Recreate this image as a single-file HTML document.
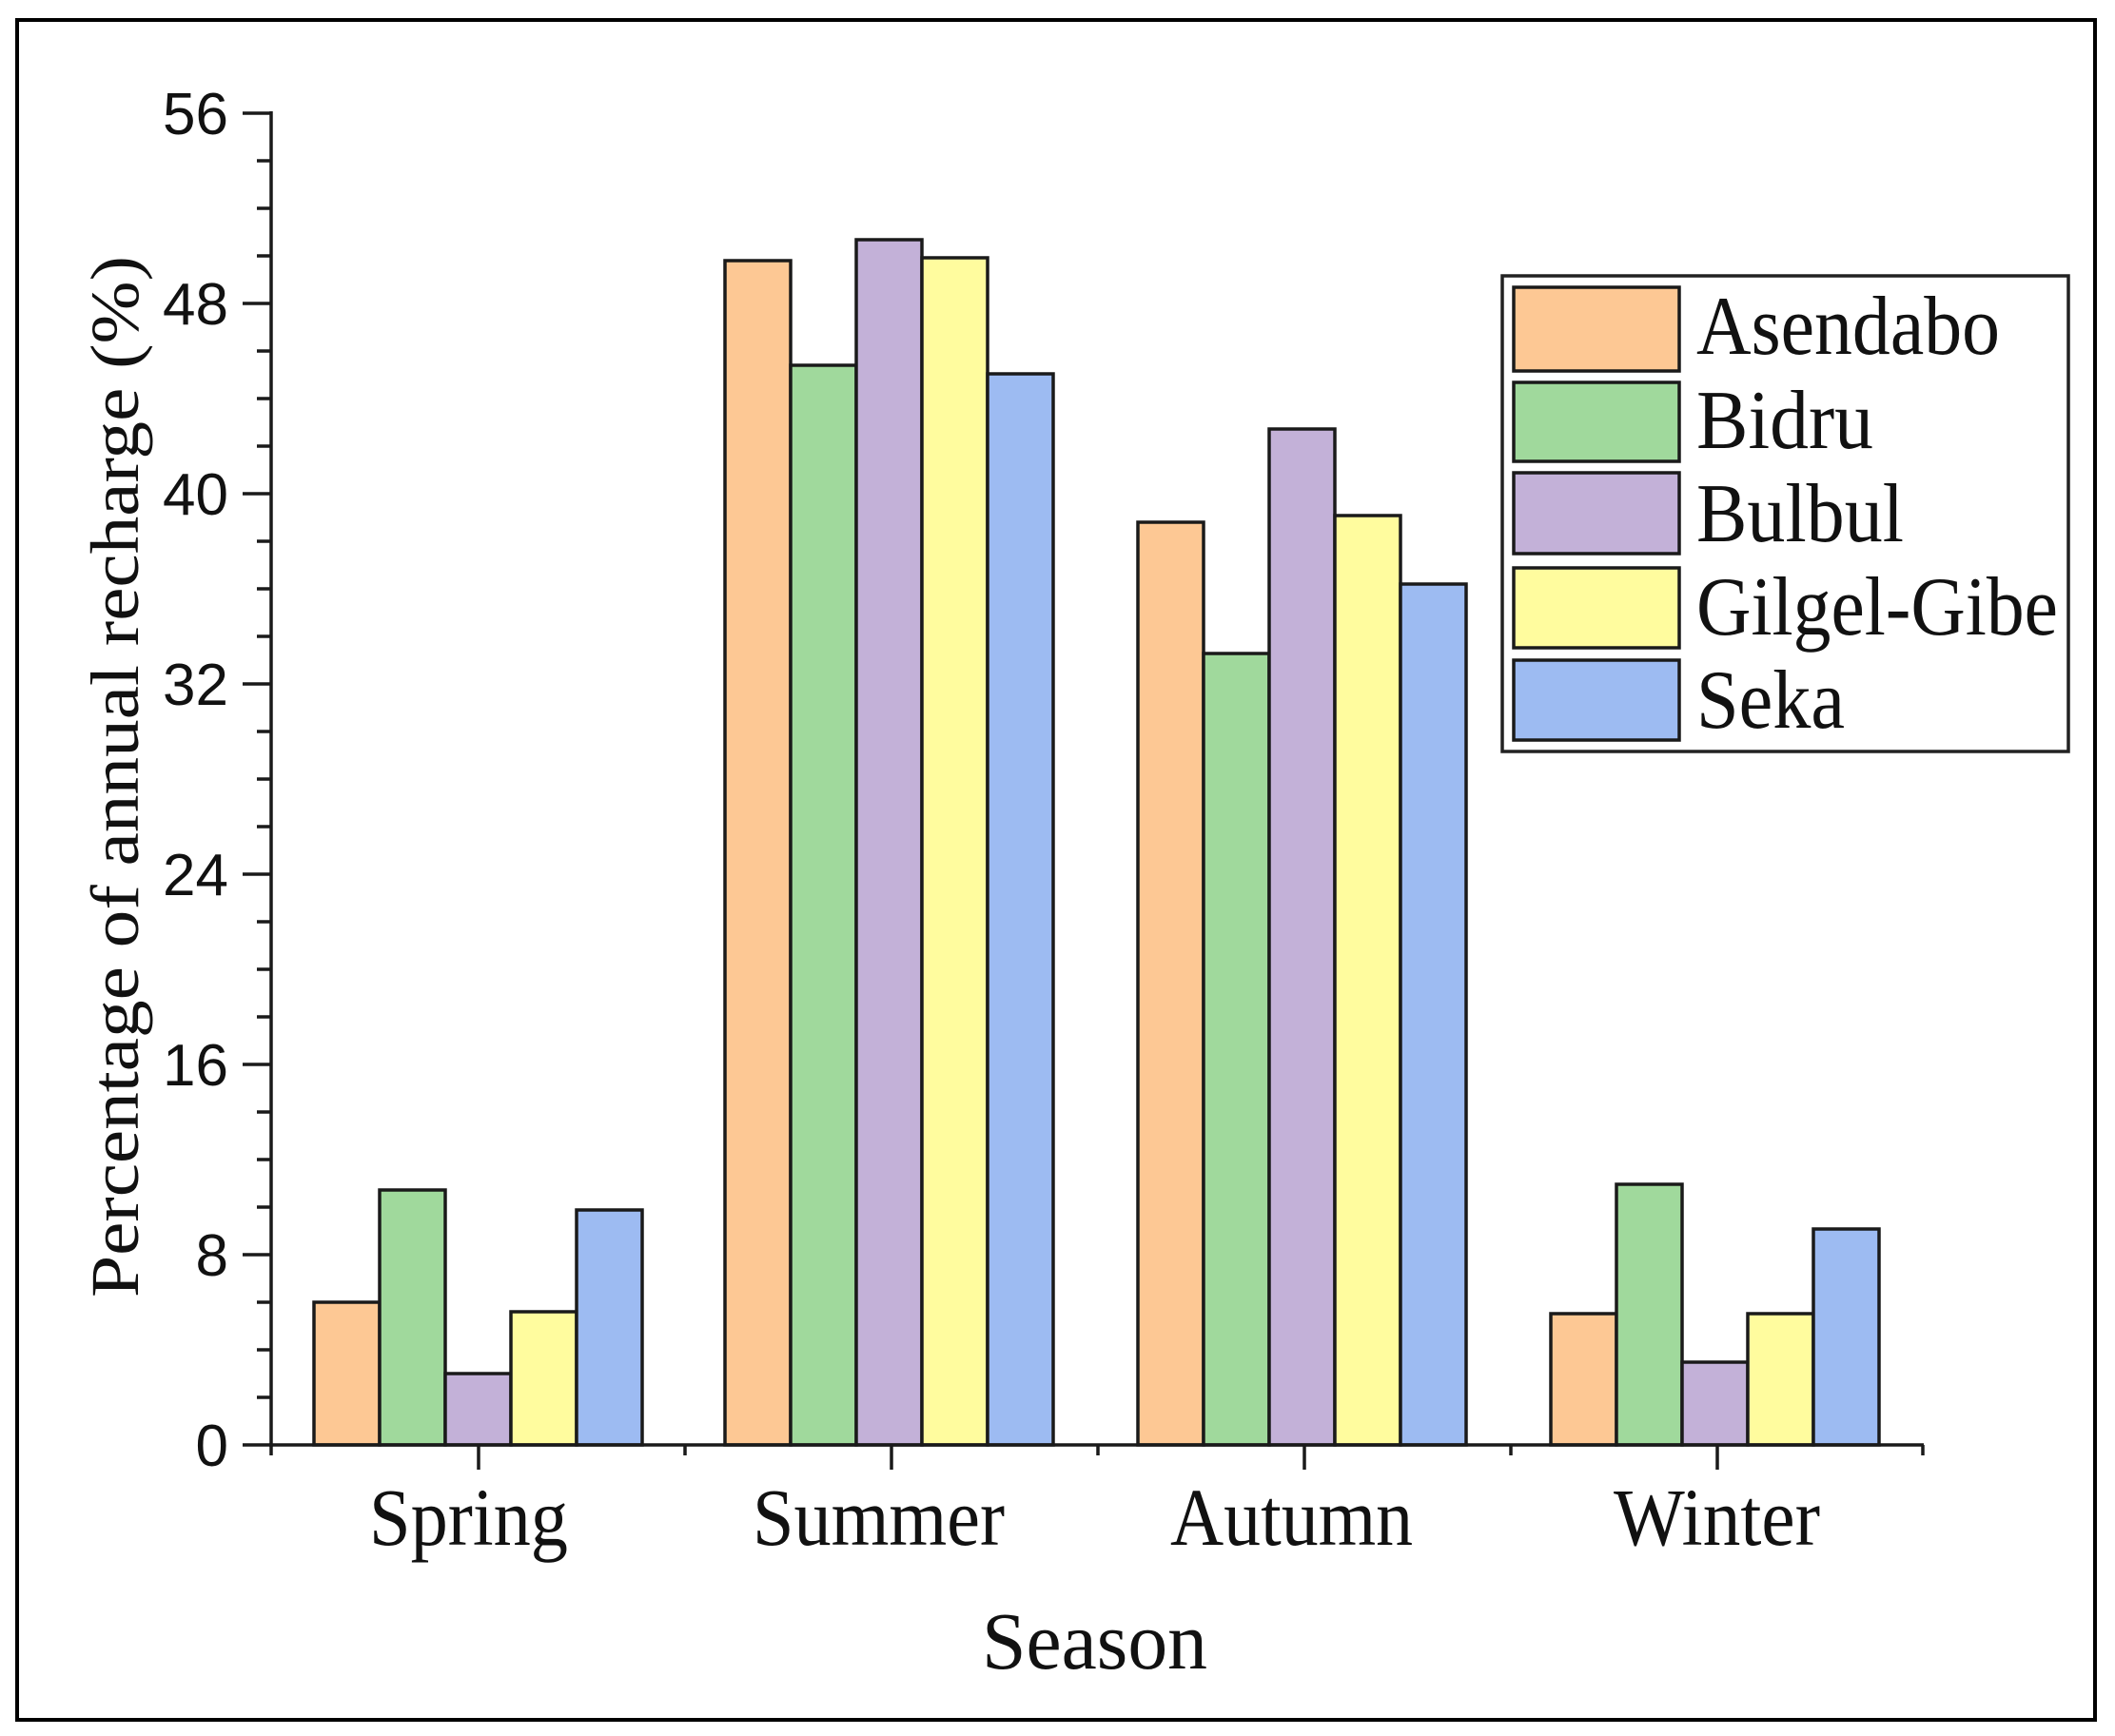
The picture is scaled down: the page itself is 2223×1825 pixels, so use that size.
<!DOCTYPE html>
<html><head><meta charset="utf-8"><style>html,body{margin:0;padding:0;background:#fff}svg{display:block}</style></head>
<body>
<svg width="2223" height="1825" viewBox="0 0 2223 1825" xmlns="http://www.w3.org/2000/svg">
<rect x="0" y="0" width="2223" height="1825" fill="#fff"/>
<rect x="18" y="21" width="2184" height="1787" fill="none" stroke="#000" stroke-width="4"/>
<g stroke="#1a1a1a" stroke-width="3.5">
<rect x="330" y="1369" width="69" height="150" fill="#FDC894"/>
<rect x="399" y="1251" width="69" height="268" fill="#A0D99C"/>
<rect x="468" y="1444" width="69" height="75" fill="#C3B1D8"/>
<rect x="537" y="1379" width="69" height="140" fill="#FFFC9E"/>
<rect x="606" y="1272" width="69" height="247" fill="#9DBBF2"/>
<rect x="762" y="274" width="69" height="1245" fill="#FDC894"/>
<rect x="831" y="384" width="69" height="1135" fill="#A0D99C"/>
<rect x="900" y="252" width="69" height="1267" fill="#C3B1D8"/>
<rect x="969" y="271" width="69" height="1248" fill="#FFFC9E"/>
<rect x="1038" y="393" width="69" height="1126" fill="#9DBBF2"/>
<rect x="1196" y="549" width="69" height="970" fill="#FDC894"/>
<rect x="1265" y="687" width="69" height="832" fill="#A0D99C"/>
<rect x="1334" y="451" width="69" height="1068" fill="#C3B1D8"/>
<rect x="1403" y="542" width="69" height="977" fill="#FFFC9E"/>
<rect x="1472" y="614" width="69" height="905" fill="#9DBBF2"/>
<rect x="1630" y="1381" width="69" height="138" fill="#FDC894"/>
<rect x="1699" y="1245" width="69" height="274" fill="#A0D99C"/>
<rect x="1768" y="1432" width="69" height="87" fill="#C3B1D8"/>
<rect x="1837" y="1381" width="69" height="138" fill="#FFFC9E"/>
<rect x="1906" y="1292" width="69" height="227" fill="#9DBBF2"/>
<line x1="285" y1="117" x2="285" y2="1521" />
<line x1="283" y1="1519" x2="2022" y2="1519" />
<path d="M255 119H285M255 319H285M255 519H285M255 719H285M255 919H285M255 1119H285M255 1319H285M255 1519H285" fill="none"/>
<path d="M270 169H285M270 219H285M270 269H285M270 369H285M270 419H285M270 469H285M270 569H285M270 619H285M270 669H285M270 769H285M270 819H285M270 869H285M270 969H285M270 1019H285M270 1069H285M270 1169H285M270 1219H285M270 1269H285M270 1369H285M270 1419H285M270 1469H285" fill="none"/>
<path d="M503 1519V1545M937 1519V1545M1371 1519V1545M1805 1519V1545" fill="none"/>
<path d="M285 1519V1530M720 1519V1530M1154 1519V1530M1588 1519V1530M2021 1519V1530" fill="none"/>
</g>
<g font-family="Liberation Sans, Arial, sans-serif" font-size="62" fill="#111" text-anchor="end">
<text x="240" y="141">56</text>
<text x="240" y="341">48</text>
<text x="240" y="541">40</text>
<text x="240" y="741">32</text>
<text x="240" y="941">24</text>
<text x="240" y="1141">16</text>
<text x="240" y="1341">8</text>
<text x="240" y="1541">0</text>
</g>
<g font-family="Liberation Serif, 'Times New Roman', serif" fill="#111">
<text x="388" y="1624" font-size="86" textLength="209" lengthAdjust="spacingAndGlyphs">Spring</text>
<text x="791" y="1624" font-size="86" textLength="265" lengthAdjust="spacingAndGlyphs">Summer</text>
<text x="1230" y="1624" font-size="86" textLength="255" lengthAdjust="spacingAndGlyphs">Autumn</text>
<text x="1696" y="1624" font-size="86" textLength="217" lengthAdjust="spacingAndGlyphs">Winter</text>
<text x="1032" y="1754" font-size="86" textLength="237" lengthAdjust="spacingAndGlyphs">Season</text>
<text transform="translate(145,1364) rotate(-90)" font-size="72" textLength="1095" lengthAdjust="spacingAndGlyphs">Percentage of annual recharge (%)</text>
</g>
<rect x="1579" y="290" width="595" height="500" fill="#fff" stroke="#222" stroke-width="3.5"/>
<g stroke="#1a1a1a" stroke-width="3.5">
<rect x="1591" y="302" width="174" height="88" fill="#FDC894"/>
<rect x="1591" y="402" width="174" height="83" fill="#A0D99C"/>
<rect x="1591" y="497" width="174" height="85" fill="#C3B1D8"/>
<rect x="1591" y="597" width="174" height="84" fill="#FFFC9E"/>
<rect x="1591" y="694" width="174" height="84" fill="#9DBBF2"/>
</g>
<g font-family="Liberation Serif, 'Times New Roman', serif" font-size="88" fill="#111">
<text x="1783" y="372" textLength="319" lengthAdjust="spacingAndGlyphs">Asendabo</text>
<text x="1783" y="471" textLength="186" lengthAdjust="spacingAndGlyphs">Bidru</text>
<text x="1783" y="569" textLength="218" lengthAdjust="spacingAndGlyphs">Bulbul</text>
<text x="1783" y="667" textLength="380" lengthAdjust="spacingAndGlyphs">Gilgel-Gibe</text>
<text x="1783" y="765" textLength="156" lengthAdjust="spacingAndGlyphs">Seka</text>
</g>
</svg>
</body></html>
